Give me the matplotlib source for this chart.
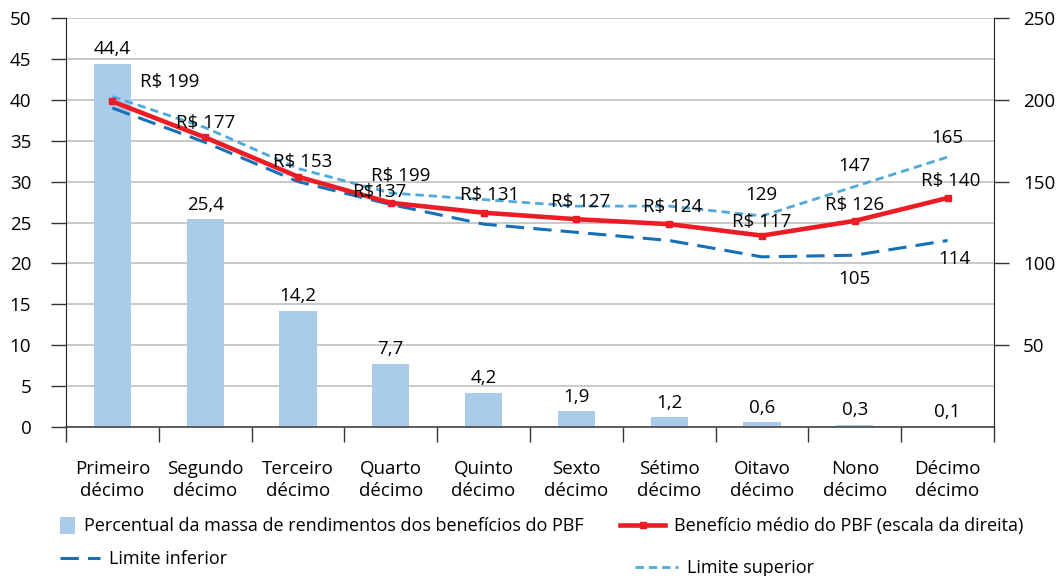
import matplotlib
matplotlib.use("Agg")
import matplotlib.pyplot as plt
from matplotlib.lines import Line2D
from matplotlib.patches import Patch
import numpy as np

plt.rcParams['font.family'] = ['Open Sans', 'DejaVu Sans']

categories = ["Primeiro\ndécimo", "Segundo\ndécimo", "Terceiro\ndécimo", "Quarto\ndécimo",
              "Quinto\ndécimo", "Sexto\ndécimo", "Sétimo\ndécimo", "Oitavo\ndécimo",
              "Nono\ndécimo", "Décimo\ndécimo"]
pct_massa = [44.4, 25.4, 14.2, 7.7, 4.2, 1.9, 1.2, 0.6, 0.3, 0.1]
pct_labels = ["44,4", "25,4", "14,2", "7,7", "4,2", "1,9", "1,2", "0,6", "0,3", "0,1"]
beneficio_medio = [199, 177, 153, 137, 131, 127, 124, 117, 126, 140]
limite_superior = [202, 183, 158, 143, 139, 135, 135, 129, 147, 165]
limite_inferior = [195, 174, 150, 136, 124, 119, 114, 104, 105, 114]

# text annotations as printed on the original (x index, value on right scale)
media_labels = ["R$ 199", "R$ 177", "R$ 153", "R$ 199", "R$137", "R$ 131",
                "R$ 127", "R$ 124", "R$ 117", "R$ 126", "R$ 140"]
media_label_x = [0.62, 1.0, 2.05, 3.11, 2.88, 4.06, 5.05, 6.04, 7.0, 8.0, 9.03]
media_label_y = [211, 186, 162, 153.5, 143.5, 142, 137.5, 134.5, 125.5, 135.5, 150.5]
sup_labels = ["129", "147", "165"]
sup_label_x = [6.99, 8.0, 9.0]
sup_label_y = [142, 159.5, 176.5]
inf_labels = ["105", "114"]
inf_label_x = [8.0, 9.07]
inf_label_y = [90.5, 102.5]

bar_color = "#abcbea"
red = "#ec1c24"
light_blue = "#4ea9dd"
dark_blue = "#1670b8"
grid_color = "#c9c9c9"
fs = 13.5
lfs = 13

fig = plt.figure(figsize=(10.58, 5.76), dpi=100)
ax = fig.add_axes([66/1058, 1-427/576, (994-66)/1058, (427-18)/576])
ax2 = ax.twinx()

x = np.arange(len(categories))
ax.bar(x, pct_massa, width=0.4, color=bar_color, zorder=2)
for xi, v, lab in zip(x, pct_massa, pct_labels):
    ax.annotate(lab, (xi, v), xytext=(0, 10.5), textcoords="offset points",
                ha="center", va="center", fontsize=fs)

ax.set_xlim(-0.5, 9.5)
ax.set_ylim(0, 50)
ax.set_yticks(np.arange(0, 51, 5))
ax.yaxis.grid(True, color=grid_color, linewidth=1.4, zorder=0)
ax.set_axisbelow(True)
ax.set_xticks(np.arange(-0.5, 10, 1))
ax.set_xticklabels([])
ax.set_xticks(x, minor=True)
ax.set_xticklabels(categories, minor=True, fontsize=fs, linespacing=1.3)
ax.tick_params(axis="x", which="major", length=11, width=1, color="#333333", direction="out")
ax.tick_params(axis="x", which="minor", length=0, pad=23.5)
ax.tick_params(axis="y", length=11, width=1, color="#333333", labelsize=fs, pad=14)
for s in ["top", "right"]:
    ax.spines[s].set_visible(False)
ax.spines["left"].set_color("#222222")
ax.spines["bottom"].set_color("#444444")
ax.spines["bottom"].set_linewidth(1.2)

ax2.plot(x, limite_inferior, color=dark_blue, linewidth=2.2, dashes=(6, 3), zorder=3)
ax2.plot(x, limite_superior, color=light_blue, linewidth=2.0, dashes=(3, 1.8), zorder=3)
ax2.plot(x, beneficio_medio, color=red, linewidth=3.3, marker="s", markersize=5, zorder=4)
ax2.set_ylim(0, 250)
ax2.set_yticks([50, 100, 150, 200, 250])
ax2.tick_params(axis="y", length=11, width=1, color="#333333", labelsize=fs, pad=10)
for s in ["top", "left", "bottom"]:
    ax2.spines[s].set_visible(False)
ax2.spines["right"].set_color("#222222")

for lab, lx, ly in zip(media_labels, media_label_x, media_label_y):
    ax2.text(lx, ly, lab, ha="center", va="center", fontsize=fs, zorder=6)
for lab, lx, ly in zip(sup_labels, sup_label_x, sup_label_y):
    ax2.text(lx, ly, lab, ha="center", va="center", fontsize=fs, zorder=6)
for lab, lx, ly in zip(inf_labels, inf_label_x, inf_label_y):
    ax2.text(lx, ly, lab, ha="center", va="center", fontsize=fs, zorder=6)

def add_legend(handle, label, px, py, hl, hh=0.7):
    fig.legend(handles=[handle], labels=[label], loc="center left",
               bbox_to_anchor=(px/1058, 1-py/576), frameon=False, fontsize=lfs,
               handlelength=hl, handleheight=hh, handletextpad=0.5,
               borderpad=0, borderaxespad=0)

add_legend(Patch(facecolor=bar_color), "Percentual da massa de rendimentos dos benefícios do PBF",
           60, 526, 0.85, 1.1)
add_legend(Line2D([], [], color=red, linewidth=3.3, marker="s", markersize=5),
           "Benefício médio do PBF (escala da direita)", 620, 526, 2.5)
add_legend(Line2D([], [], color=dark_blue, linewidth=2.2, dashes=(6, 3)),
           "Limite inferior", 60, 559, 2.2)
add_legend(Line2D([], [], color=light_blue, linewidth=2.0, dashes=(3, 1.8)),
           "Limite superior", 635, 568, 2.4)

fig.savefig("out.png", dpi=100)
